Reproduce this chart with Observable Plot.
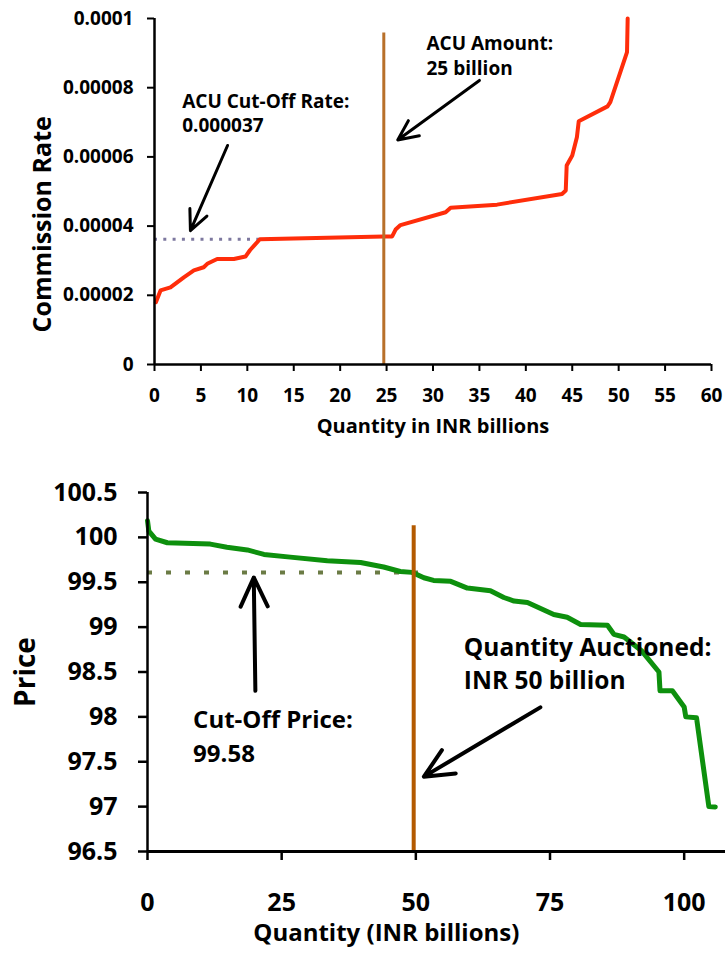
<!DOCTYPE html>
<html>
<head>
<meta charset="utf-8">
<script src="https://cdn.jsdelivr.net/npm/d3@7"></script>
<script src="https://cdn.jsdelivr.net/npm/@observablehq/plot@0.6"></script>
<style>
  html, body { margin: 0; padding: 0; background: #fff; }
  body { width: 725px; height: 953px; position: relative; overflow: hidden; }
  #top { position: absolute; left: 0; top: 0; }
  #bottom { position: absolute; left: 0; top: 480px; }
  svg { font-family: "Open Sans", sans-serif; font-weight: 700; }
</style>
</head>
<body>
<div id="top"></div>
<div id="bottom"></div>
<script>
// ---------- Top chart: ACU commission rate bids ----------
const topQty = [0.15, 0.65, 1.72, 3.16, 4.24, 5.3, 5.68, 6.75, 8.55, 9.8, 10.3, 11.35, 24.7, 25.6, 25.97, 26.5, 31.36, 31.9, 36.9, 43.9, 44.3, 44.4, 45.0, 45.5, 45.7, 48.8, 49.1, 50.9, 50.97];
const topRate = [0.0000180, 0.0000214, 0.0000223, 0.0000252, 0.0000272, 0.0000281, 0.0000291, 0.0000305, 0.0000305, 0.0000312, 0.0000331, 0.0000362, 0.0000370, 0.0000370, 0.0000390, 0.0000403, 0.0000440, 0.0000453, 0.0000462, 0.0000493, 0.0000503, 0.0000575, 0.0000604, 0.0000657, 0.0000703, 0.0000746, 0.0000758, 0.0000903, 0.0001000];
const topXTicks = [0, 5, 10, 15, 20, 25, 30, 35, 40, 45, 50, 55, 60];
const topYTicks = [0, 0.00002, 0.00004, 0.00006, 0.00008, 0.0001];
const topYTickLabels = ["0", "0.00002", "0.00004", "0.00006", "0.00008", "0.0001"];
const topCutoffRate = 0.0000362;
const topCutoffQty = [0, 12.8];
const topAmount = 24.7;
const topAmountTop = 0.0000958;
const topNotes = [
  {x: 2.98, y: 0.0000671, text: "ACU Cut-Off Rate:\n0.000037"},
  {x: 29.3, y: 0.0000838, text: "ACU Amount:\n25 billion"}
];
const topArrows = [
  {x1: 7.87, y1: 0.0000633, x2: 3.87, y2: 0.0000387},
  {x1: 35.0, y1: 0.0000821, x2: 26.2, y2: 0.0000649}
];
const topXLabel = "Quantity in INR billions";
const topYLabel = "Commission Rate";

// ---------- Bottom chart: auction price bids ----------
const botQty = [0, 0.25, 1.5, 3.7, 11.7, 14.8, 18.6, 21.7, 26.6, 33.5, 39.7, 44.0, 47.1, 49.3, 51.5, 53.3, 56.5, 59.6, 63.9, 66.4, 68.3, 70.8, 75.7, 78.2, 80.7, 85.7, 86.9, 88.8, 92.0, 95.3, 95.5, 97.8, 100.0, 100.3, 102.3, 104.6, 105.8];
const botPrice = [100.185, 100.07, 99.98, 99.94, 99.925, 99.89, 99.86, 99.81, 99.78, 99.74, 99.72, 99.67, 99.62, 99.61, 99.55, 99.52, 99.51, 99.435, 99.405, 99.33, 99.29, 99.275, 99.14, 99.11, 99.03, 99.02, 98.92, 98.89, 98.74, 98.50, 98.29, 98.29, 98.11, 98.0, 97.99, 97.0, 96.997];
const botXTicks = [0, 25, 50, 75, 100];
const botYTicks = [96.5, 97, 97.5, 98, 98.5, 99, 99.5, 100, 100.5];
const botYTickLabels = ["96.5", "97", "97.5", "98", "98.5", "99", "99.5", "100", "100.5"];
const botCutoffPrice = 99.61;
const botCutoffQty = [0, 50.9];
const botAuctioned = 49.6;
const botAuctionedTop = 100.13;
const botNoteCut = {x: 8.5, y: 97.493, text: "Cut-Off Price:\n99.58"};
const botNoteQty = {x: 58.95, y: 98.314, text: "Quantity Auctioned:\nINR 50 billion"};
const botArrows = [
  {x1: 20.1, y1: 98.29, x2: 19.8, y2: 99.553},
  {x1: 73.2, y1: 98.106, x2: 51.5, y2: 97.334}
];
const botXLabel = "Quantity (INR billions)";
const botYLabel = "Price";

const topData = topQty.map((q, i) => ({q, r: topRate[i]}));
const botData = botQty.map((q, i) => ({q, p: botPrice[i]}));

const topPlot = Plot.plot({
  width: 725, height: 480,
  marginLeft: 154, marginRight: 14, marginTop: 18, marginBottom: 116,
  style: {fontFamily: "'Open Sans', sans-serif", fontSize: "19px", fontWeight: 700, background: "white", overflow: "visible"},
  x: {domain: [0, 60]},
  y: {domain: [0, 0.0001]},
  marks: [
    Plot.ruleY([topCutoffRate], {x1: topCutoffQty[0], x2: topCutoffQty[1], stroke: "#7d789f", strokeWidth: 3, strokeDasharray: "3,6.3"}),
    Plot.line(topData, {x: "q", y: "r", stroke: "#ff2d0a", strokeWidth: 4, strokeLinejoin: "round"}),
    Plot.ruleX([topAmount], {y1: 0, y2: topAmountTop, stroke: "#b8702a", strokeWidth: 3}),
    Plot.ruleX([0], {stroke: "black", strokeWidth: 2.5}),
    Plot.ruleY([0], {stroke: "black", strokeWidth: 2.5}),
    Plot.axisX({ticks: topXTicks, tickSize: 7, tickPadding: 17, strokeWidth: 2, label: null, fontSize: 19}),
    Plot.axisY({ticks: topYTicks, tickSize: 7, tickPadding: 14, strokeWidth: 2, label: null, fontSize: 19, tickFormat: (d, i) => topYTickLabels[i]}),
    Plot.text(topNotes, {x: "x", y: "y", text: "text", textAnchor: "start", lineAnchor: "bottom", lineHeight: 1.3, fontSize: 19, fill: "black"}),
    Plot.arrow(topArrows, {x1: "x1", y1: "y1", x2: "x2", y2: "y2", stroke: "black", strokeWidth: 3, headLength: 11, headAngle: 50}),
    Plot.text([topXLabel], {x: 30, frameAnchor: "bottom", dy: 62, lineAnchor: "middle", fontSize: 20, fill: "black"}),
    Plot.text([topYLabel], {y: 0.0000405, frameAnchor: "left", dx: -112, rotate: -90, lineAnchor: "middle", textAnchor: "middle", fontSize: 25, fill: "black"})
  ]
});
document.getElementById("top").append(topPlot);

const botPlot = Plot.plot({
  width: 725, height: 473,
  marginLeft: 147, marginRight: 0, marginTop: 12, marginBottom: 102,
  style: {fontFamily: "'Open Sans', sans-serif", fontSize: "25px", fontWeight: 700, background: "white", overflow: "visible"},
  x: {domain: [0, 107.7]},
  y: {domain: [96.5, 100.5]},
  marks: [
    Plot.ruleY([botCutoffPrice], {x1: botCutoffQty[0], x2: botCutoffQty[1], stroke: "#6b7b45", strokeWidth: 4, strokeDasharray: "5,14"}),
    Plot.line(botData, {x: "q", y: "p", stroke: "#0d900d", strokeWidth: 5, strokeLinejoin: "round", strokeLinecap: "round"}),
    Plot.ruleX([botAuctioned], {y1: 96.5, y2: botAuctionedTop, stroke: "#b35a00", strokeWidth: 4}),
    Plot.ruleX([0], {stroke: "black", strokeWidth: 2.5}),
    Plot.ruleY([96.5], {stroke: "black", strokeWidth: 3}),
    Plot.axisX({ticks: botXTicks, tickSize: 9, tickPadding: 33, strokeWidth: 2.5, label: null, fontSize: 25}),
    Plot.axisY({ticks: botYTicks, tickSize: 9, tickPadding: 21, strokeWidth: 2.5, label: null, fontSize: 25, tickFormat: (d, i) => botYTickLabels[i]}),
    Plot.text([botNoteCut], {x: "x", y: "y", text: "text", textAnchor: "start", lineAnchor: "bottom", lineHeight: 1.42, fontSize: 24, fill: "black"}),
    Plot.text([botNoteQty], {x: "x", y: "y", text: "text", textAnchor: "start", lineAnchor: "bottom", lineHeight: 1.35, fontSize: 24.5, fill: "black"}),
    Plot.arrow(botArrows, {x1: "x1", y1: "y1", x2: "x2", y2: "y2", stroke: "black", strokeWidth: 4, headLength: 12, headAngle: 50}),
    Plot.text([botXLabel], {x: 44.5, frameAnchor: "bottom", dy: 82, lineAnchor: "middle", fontSize: 24, fill: "black"}),
    Plot.text([botYLabel], {y: 98.5, frameAnchor: "left", dx: -121, rotate: -90, lineAnchor: "middle", textAnchor: "middle", fontSize: 28, fill: "black"})
  ]
});
document.getElementById("bottom").append(botPlot);
</script>
</body>
</html>
